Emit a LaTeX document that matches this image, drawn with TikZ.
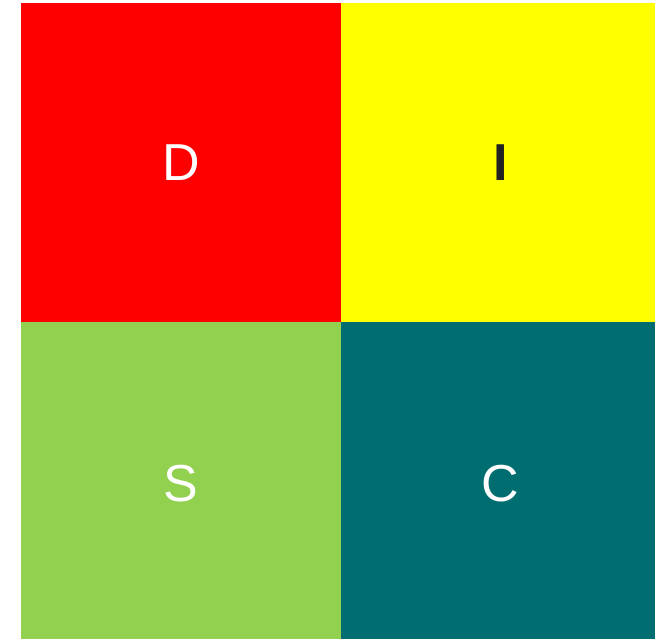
\documentclass[tikz,border=0pt]{standalone}
\usepackage{fontspec}
\setmainfont{Liberation Sans}
\definecolor{dred}{HTML}{FF0000}
\definecolor{dyel}{HTML}{FFFF00}
\definecolor{dgrn}{HTML}{92D050}
\definecolor{dteal}{HTML}{006E70}
\definecolor{dtext}{HTML}{222222}
\begin{document}
\begin{tikzpicture}[x=1pt,y=-1pt,
  quad/.style={draw=none,inner sep=0pt,outer sep=0pt},
  lbl/.style={font=\fontsize{52}{52}\selectfont,inner sep=0pt}]
\useasboundingbox (0,0) rectangle (655,639);
\fill[white] (0,0) rectangle (655,639);
\fill[dred] (21,3) rectangle (341,322);
\fill[dyel] (341,3) rectangle (655,322);
\fill[dgrn] (21,322) rectangle (341,639);
\fill[dteal] (341,322) rectangle (655,639);
\node[lbl,white] (d) at (181,162.5) {D};
\node[lbl,text=dtext,font=\fontsize{52}{52}\selectfont\bfseries] (i) at (500.5,162.5) {I};
\node[lbl,white] (s) at (181,484) {S};
\node[lbl,white] (c) at (500,484) {C};
\end{tikzpicture}
\end{document}
